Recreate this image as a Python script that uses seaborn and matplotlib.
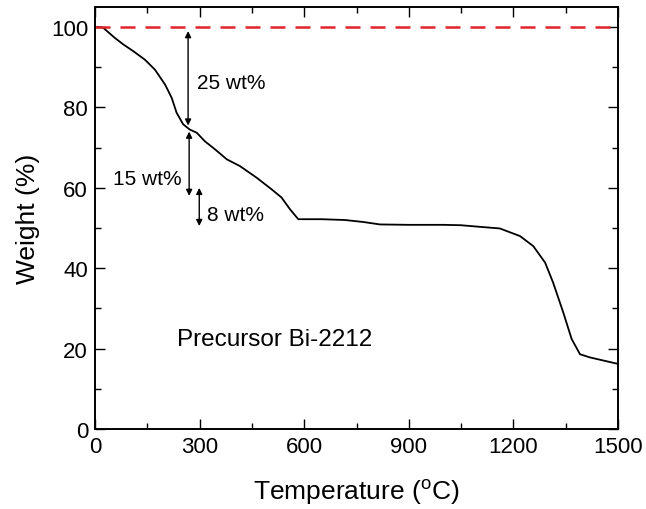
import matplotlib
matplotlib.use("Agg")
import matplotlib.pyplot as plt
import seaborn as sns
import pandas as pd

temperature = [0, 15, 24, 57, 81, 110, 143, 172, 201, 220, 234, 253, 272, 292, 315, 344,
               378, 416, 464, 507, 535, 559, 583, 650, 717, 770, 817, 900, 1000,
               1050, 1104, 1161, 1219, 1257, 1291, 1314, 1343, 1367, 1391, 1420, 1460, 1500]
weight = [100, 100, 99.8, 97.3, 95.7, 94.0, 91.9, 89.4, 85.7, 82.4, 78.7, 75.8, 74.5, 73.7,
          71.6, 69.6, 67.1, 65.4, 62.5, 59.6, 57.6, 54.7, 52.2, 52.2, 52.0, 51.5, 50.9,
          50.8, 50.8, 50.7, 50.3, 49.9, 48.0, 45.5, 41.4, 36.4, 29.0, 22.4, 18.6, 17.8,
          17.0, 16.2]
ref_temperature = [0, 1500]
ref_weight = [100, 100]

x_ticks = [0, 300, 600, 900, 1200, 1500]
y_ticks = [0, 20, 40, 60, 80, 100]

sns.set_style("ticks")
plt.rcParams['font.family'] = ['Liberation Sans', 'DejaVu Sans']
plt.rcParams['mathtext.fontset'] = 'custom'
plt.rcParams['mathtext.rm'] = 'Liberation Sans'
plt.rcParams['text.color'] = 'black'
plt.rcParams['axes.labelcolor'] = 'black'

fig = plt.figure(figsize=(6.46, 5.10), dpi=100)
ax = fig.add_axes([95/646, 1 - 430/510, (618 - 95)/646, (430 - 8)/510])

df = pd.DataFrame({"T": temperature, "W": weight})
sns.lineplot(data=df, x="T", y="W", ax=ax, color="black", linewidth=1.3)
ref = pd.DataFrame({"T": ref_temperature, "W": ref_weight})
sns.lineplot(data=ref, x="T", y="W", ax=ax, color="#e0242a", linewidth=1.8,
             linestyle=(0, (6, 4)))

ax.set_xlim(0, 1500)
ax.set_ylim(0, 105)
ax.set_xticks(x_ticks)
ax.set_yticks(y_ticks)
ax.set_xticks([150, 450, 750, 1050, 1350], minor=True)
ax.set_yticks([10, 30, 50, 70, 90], minor=True)
ax.tick_params(which='both', direction='in', top=True, right=True, width=1.0,
               labelsize=16, color='black', labelcolor='black')
ax.tick_params(which='major', length=7, pad=5)
ax.tick_params(which='minor', length=4)
for s in ax.spines.values():
    s.set_linewidth(1.4)
    s.set_color('black')

ax.set_xlabel(r'Temperature ($^{\rm o}$C)', fontsize=19, labelpad=14, color='black')
ax.set_ylabel('Weight (%)', fontsize=19, labelpad=8, color='black')

aprops = dict(arrowstyle='<|-|>', color='black', lw=1.0, mutation_scale=9,
              shrinkA=0, shrinkB=0)
ax.annotate('', xy=(267, 99), xytext=(267, 75.5), arrowprops=aprops)
ax.annotate('', xy=(270, 74), xytext=(270, 58), arrowprops=aprops)
ax.annotate('', xy=(299, 60), xytext=(299, 50.5), arrowprops=aprops)
ax.text(292, 86.2, '25 wt%', fontsize=15, va='center', ha='left', color='black')
ax.text(249, 62.3, '15 wt%', fontsize=15, va='center', ha='right', color='black')
ax.text(322, 53.4, '8 wt%', fontsize=15, va='center', ha='left', color='black')
ax.text(516, 22.4, 'Precursor Bi-2212', fontsize=17.5, va='center', ha='center',
        color='black')

fig.savefig("out.png", dpi=100)
